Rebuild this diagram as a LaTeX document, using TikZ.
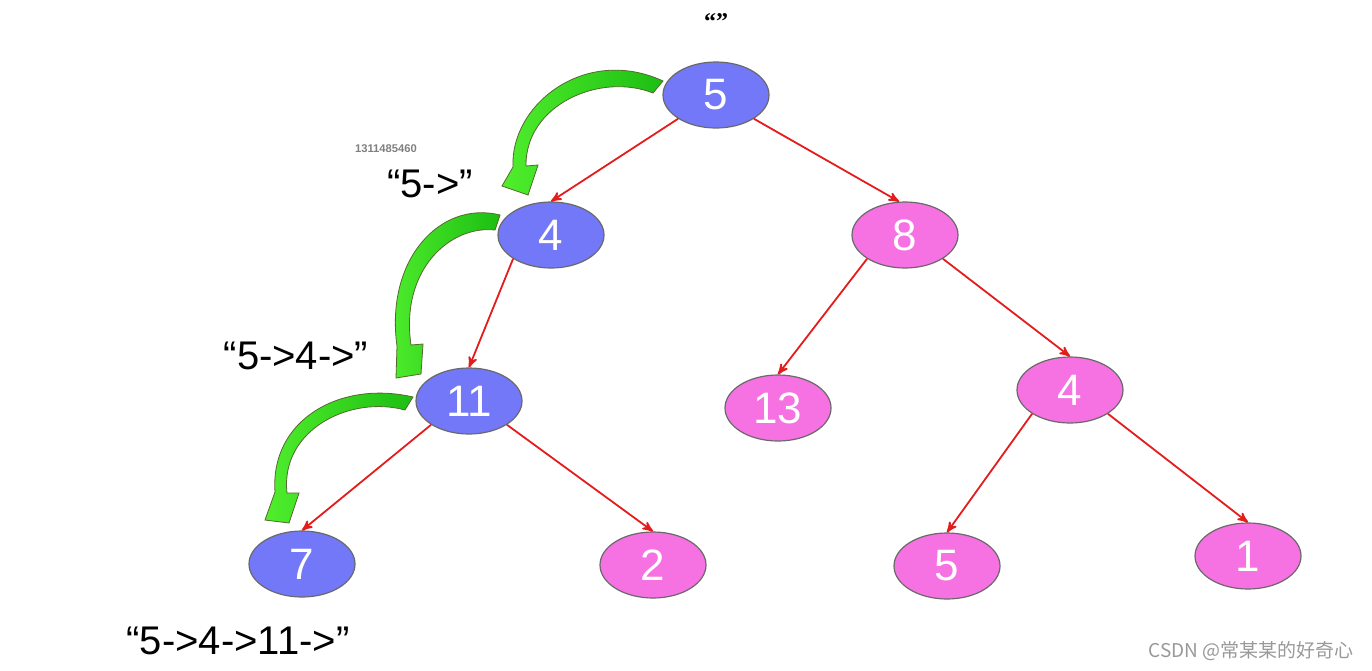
\documentclass[tikz,border=0pt]{standalone}
\usepackage{fontspec}
\setmainfont{Liberation Sans}
\newfontfamily\cjkfont{Noto Sans CJK SC}
\newfontfamily\quotefont{Liberation Serif}
\usepackage{tikz}
\usetikzlibrary{shapes,arrows}
\definecolor{pathblue}{RGB}{114,120,248}
\definecolor{nodepink}{RGB}{246,114,226}
\definecolor{rimgray}{RGB}{105,105,105}
\definecolor{linkred}{RGB}{228,28,28}
\definecolor{walkgreen}{RGB}{28,190,18}
\definecolor{walklight}{RGB}{80,238,45}
\definecolor{walkrim}{RGB}{85,105,45}

\begin{document}
\begin{tikzpicture}[x=0.5pt, y=-0.5pt, >=stealth',
  visited/.style={draw=rimgray, line width=0.6pt, fill=pathblue, ellipse, minimum width=53pt, minimum height=33pt, inner sep=0pt, text=white, font=\fontsize{22}{22}\selectfont},
  waiting/.style={visited, fill=nodepink},
  link/.style={draw=linkred, ->, line width=0.9pt},
  walk/.style={draw=walkrim, line width=0.4pt, left color=walklight, right color=walkgreen},
  trace/.style={font=\fontsize{20}{20}\selectfont}
]

  % Canvas
  \fill [white] (0,0) rectangle (1372,670);
  \useasboundingbox (0,0) rectangle (1372,670);

  % Tree nodes
  \node [visited] (root) at (716,95) {5};
  \node [visited] (l) at (551,235) {4};
  \node [waiting] (r) at (905,235) {8};
  \node [visited] (ll) at (469,401) {11};
  \node [waiting] (rl) at (778,408) {13};
  \node [waiting] (rr) at (1070,390) {4};
  \node [visited] (lll) at (302,564) {7};
  \node [waiting] (llr) at (653,565) {2};
  \node [waiting] (rrl) at (947,566) {5};
  \node [waiting] (rrr) at (1248,556) {1};

  % Tree edges
  \draw [link] (root.south west) -- (l.north);
  \draw [link] (root.south east) -- (r.100);
  \draw [link] (l.south west) -- (ll.north);
  \draw [link] (r.south west) -- (rl.north);
  \draw [link] (r.south east) -- (rr.north);
  \draw [link] (ll.south west) -- (lll.north);
  \draw [link] (ll.south east) -- (llr.north);
  \draw [link] (rr.south west) -- (rrl.north);
  \draw [link] (rr.south east) -- (rrr.north);

  % Walk arrows
  \path [walk] (653,93) .. controls (600,72) and (525,105) .. (526,166) -- (538,165) -- (528,195)
    -- (502,186) -- (513,167) .. controls (510,105) and (585,45) .. (663,81) -- cycle;
  \path [walk] (495,230) .. controls (450,225) and (400,270) .. (411,345) -- (423,344) -- (421,374)
    -- (396,378) -- (397,346) .. controls (385,260) and (440,200) .. (500,215) -- cycle;
  \path [walk] (405,410) .. controls (350,395) and (280,430) .. (287,493) -- (299,493) -- (289,523)
    -- (265,520) -- (275,492) .. controls (270,420) and (340,380) .. (413,397) -- cycle;

  % Path strings
  \node [font=\quotefont\bfseries\fontsize{12}{12}\selectfont] (empty) at (716,22) {“”};
  \node [text=gray, font=\bfseries\fontsize{5.6}{6}\selectfont] (stamp) at (386,149) {1311485460};
  \node [trace] (p1) at (430,184) {“5->”};
  \node [trace] (p2) at (296,356) {“5->4->”};
  \node [trace] (p3) at (238,641) {“5->4->11->”};

  % Watermark
  \node [text=gray!80, font=\cjkfont\fontsize{9.5}{10}\selectfont] (mark) at (1251,651) {CSDN @常某某的好奇心};

\end{tikzpicture}
\end{document}
